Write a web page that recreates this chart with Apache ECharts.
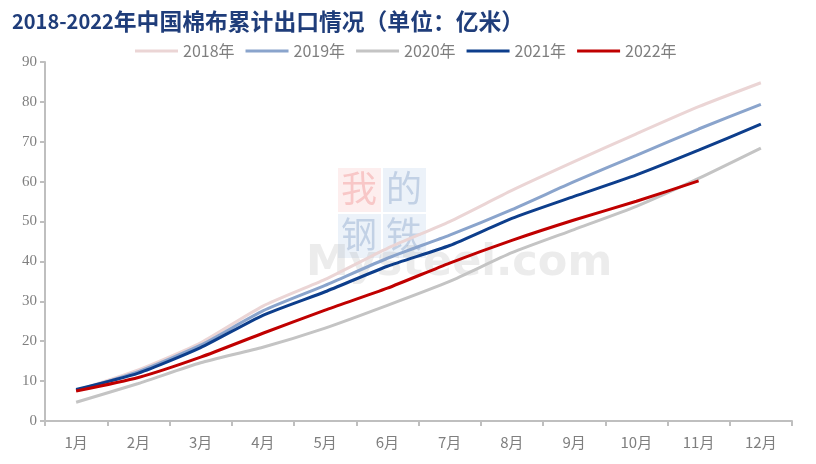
<!DOCTYPE html>
<html><head><meta charset="utf-8">
<script src="https://cdn.jsdelivr.net/npm/echarts@6/dist/echarts.min.js"></script>
<style>html,body{margin:0;padding:0;background:#fff}#c{width:816px;height:464px}</style>
</head><body><div id="c"></div>
<script>
const months = ['1月','2月','3月','4月','5月','6月','7月','8月','9月','10月','11月','12月'];
const s2018 = [7.6, 12.8, 19.6, 28.8, 35.5, 43.3, 50.0, 57.8, 65.0, 72.0, 78.8, 84.8];
const s2019 = [7.6, 12.4, 19.0, 27.6, 34.0, 40.8, 46.6, 53.0, 60.0, 66.6, 73.2, 79.4];
const s2020 = [4.7, 9.4, 14.6, 18.5, 23.3, 29.0, 35.0, 42.2, 48.0, 53.8, 60.8, 68.4];
const s2021 = [7.9, 12.0, 18.4, 26.5, 32.4, 38.8, 44.0, 50.8, 56.3, 61.7, 67.9, 74.4];
const s2022 = [7.5, 10.9, 16.0, 22.0, 27.8, 33.3, 39.6, 45.3, 50.4, 55.1, 60.2];
const names = ['2018年','2019年','2020年','2021年','2022年'];
const colors = ['#ebd5d5','#8aa4cc','#c4c4c4','#0d3e8c','#c00000'];
const datasets = [s2018, s2019, s2020, s2021, s2022];

const chart = echarts.init(document.getElementById('c'));
chart.setOption({
  animation: false,
  title: {
    text: '{a|2018-2022}{b|年中国棉布累计出口情况（单位：亿米）}',
    left: 7, top: 5,
    textStyle: {
      rich: {
        a: {color: '#1f3d7a', fontSize: 20, fontWeight: 'bold', fontFamily: 'Noto Sans CJK SC'},
        b: {color: '#1f3d7a', fontSize: 22.8, fontWeight: 'bold', fontFamily: 'Noto Sans CJK SC'}
      }
    }
  },
  legend: {
    data: names, top: 38, left: 130, itemWidth: 43, itemHeight: 3, itemGap: 11,
    icon: 'rect',
    textStyle: {color: '#7f7f7f', fontSize: 16, padding: [0, 0, 0, 0], fontFamily: 'Noto Sans CJK SC'}
  },
  graphic: [
    {type:'rect', shape:{x:338,y:168,width:43,height:44}, style:{fill:'rgba(240,120,120,0.13)'}, z:0},
    {type:'rect', shape:{x:383,y:168,width:43,height:44}, style:{fill:'rgba(120,160,210,0.14)'}, z:0},
    {type:'rect', shape:{x:338,y:214,width:43,height:44}, style:{fill:'rgba(120,160,210,0.14)'}, z:0},
    {type:'rect', shape:{x:383,y:214,width:43,height:44}, style:{fill:'rgba(120,160,210,0.14)'}, z:0},
    {type:'text', left:341, top:170, style:{text:'我', fill:'rgba(230,80,80,0.25)', font:'36px "Noto Sans CJK SC"'}, z:0},
    {type:'text', left:386, top:170, style:{text:'的', fill:'rgba(70,110,170,0.25)', font:'36px "Noto Sans CJK SC"'}, z:0},
    {type:'text', left:341, top:216, style:{text:'钢', fill:'rgba(70,110,170,0.25)', font:'36px "Noto Sans CJK SC"'}, z:0},
    {type:'text', left:386, top:216, style:{text:'铁', fill:'rgba(70,110,170,0.25)', font:'36px "Noto Sans CJK SC"'}, z:0},
    {type:'text', left:306, top:242, style:{text:'Mysteel.com', fill:'rgba(150,150,150,0.18)', font:'bold 43px "DejaVu Sans"'}, z:0}
  ],
  grid: {left: 45, right: 24, top: 62, bottom: 43},
  xAxis: {
    type: 'category', data: months, boundaryGap: true,
    axisLine: {lineStyle: {color: '#bfbfbf', width: 2}},
    axisTick: {show: true, length: 5, lineStyle: {color: '#bfbfbf', width: 2}},
    axisLabel: {color: '#7f7f7f', fontSize: 15, margin: 14, fontFamily: 'Noto Sans CJK SC'}
  },
  yAxis: {
    type: 'value', min: 0, max: 90, interval: 10,
    splitLine: {show: false},
    axisLine: {show: true, lineStyle: {color: '#bfbfbf', width: 2}},
    axisTick: {show: true, length: 5, lineStyle: {color: '#bfbfbf', width: 2}},
    axisLabel: {color: '#7f7f7f', fontSize: 15, margin: 8, fontFamily: 'Liberation Serif'}
  },
  series: datasets.map((d, i) => ({
    name: names[i], type: 'line', data: d, smooth: 0.2, showSymbol: false, symbol: 'none',
    lineStyle: {color: colors[i], width: 3}, itemStyle: {color: colors[i]}, z: 2 + i
  }))
});
</script></body></html>
